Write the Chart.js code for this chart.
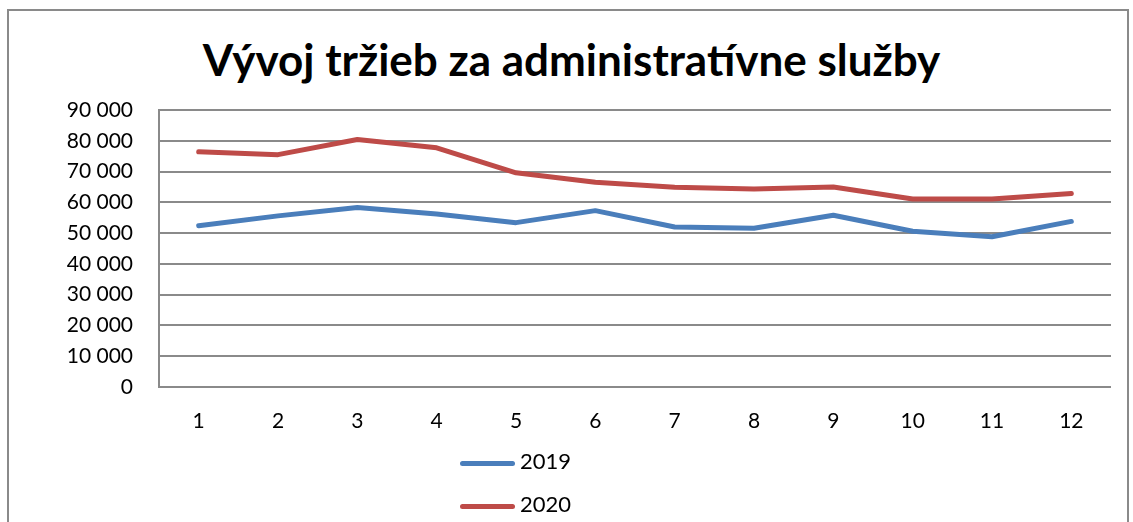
<!DOCTYPE html>
<html>
<head>
<meta charset="utf-8">
<script src="https://cdn.jsdelivr.net/npm/chart.js@4.4.1/dist/chart.umd.min.js"></script>
<style>
    body { margin: 0; background: #fff; font-family: Lato, sans-serif; }
    .wrap { position: relative; width: 1133px; height: 522px; overflow: hidden; }
    .frame { position: absolute; left: 7px; top: 9px; width: 1118px; height: 560px; border: 2px solid #8a8a8a; }
    .title { position: absolute; left: 0; width: 1143px; top: 33px; text-align: center; font-size: 44px; font-weight: bold; color: #000; }
    canvas { position: absolute; left: 0; top: 0; }
    .legend { position: absolute; left: 460px; font-size: 22px; color: #000; }
    .legend span { display: inline-block; width: 55px; height: 5px; border-radius: 3px; vertical-align: middle; margin-right: 5px; }
</style>
</head>
<body>
<div class="wrap">
    <div class="frame"></div>
    <div class="title">Vývoj tržieb za administratívne služby</div>
    <canvas id="chart" width="1133" height="522"></canvas>
    <div class="legend" style="top: 447px;"><span style="background:#4a7ebb"></span>2019</div>
    <div class="legend" style="top: 490px;"><span style="background:#be4b48"></span>2020</div>
</div>
<script>
const months = ['1', '2', '3', '4', '5', '6', '7', '8', '9', '10', '11', '12'];
const sales2019 = [52400, 55600, 58300, 56200, 53400, 57300, 52000, 51600, 55800, 50600, 48800, 53800];
const sales2020 = [76400, 75500, 80400, 77700, 69600, 66500, 64900, 64300, 65000, 61100, 61100, 62900];
const yTicks = [0, 10000, 20000, 30000, 40000, 50000, 60000, 70000, 80000, 90000];

const fmt = v => String(v).replace(/\B(?=(\d{3})+(?!\d))/g, ' ');

new Chart(document.getElementById('chart'), {
    type: 'line',
    data: {
        labels: months,
        datasets: [
            { label: '2019', data: sales2019, borderColor: '#4a7ebb', borderWidth: 5, pointRadius: 0, tension: 0, borderCapStyle: 'round', borderJoinStyle: 'round' },
            { label: '2020', data: sales2020, borderColor: '#be4b48', borderWidth: 5, pointRadius: 0, tension: 0, borderCapStyle: 'round', borderJoinStyle: 'round' }
        ]
    },
    options: {
        responsive: false,
        animation: false,
        layout: { padding: { left: 10, right: 22, top: 110, bottom: 0 } },
        plugins: { legend: { display: false }, title: { display: false }, tooltip: { enabled: false } },
        scales: {
            x: {
                offset: true,
                grid: { display: false, drawTicks: false },
                border: { display: false },
                ticks: { color: '#000', padding: 22, font: { family: 'Lato', size: 21 } },
                afterFit: s => { s.height = 135; }
            },
            y: {
                min: 0,
                max: 90000,
                afterBuildTicks: s => { s.ticks = yTicks.map(v => ({ value: v })); },
                grid: { color: '#8a8a8a', lineWidth: 2, drawTicks: false },
                border: { color: '#8a8a8a', width: 2 },
                ticks: { color: '#000', padding: 26, font: { family: 'Lato', size: 21 }, callback: v => fmt(v) },
                afterFit: s => { s.width = 149; }
            }
        }
    }
});
</script>
</body>
</html>
